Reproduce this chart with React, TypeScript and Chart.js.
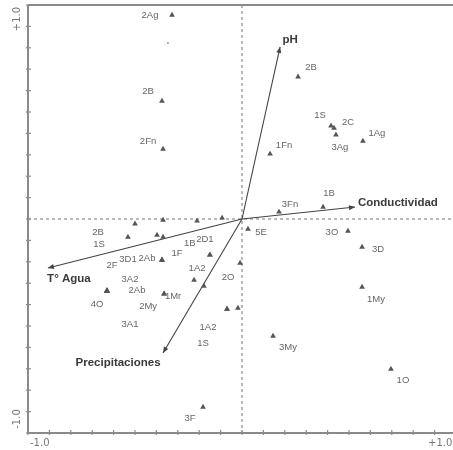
import { useEffect, useRef } from "react";
import { Chart, registerables } from "chart.js";

Chart.register(...registerables);

// ---- data (ordination scores) ----
const sampleNames = [
  "2Ag", "2B", "2Fn", "2B", "1S", "2C", "3Ag", "1Ag", "1Fn", "1B", "3Fn", "5E", "3O", "3D", "1My",
  "3My", "1O", "2O", "1A2", "1S", "3F", "2B", "1S", "", "", "", "", "", "2D1", "1B", "1F", "2Ab",
  "3D1", "2F", "3A2", "2Ab", "4O", "3A1", "1A2", "", "2My", "1Mr", "",
];
const sampleX = [
  -0.327, -0.374, -0.369, 0.262, 0.416, 0.43, 0.439, 0.565, 0.131, 0.379, 0.173, 0.028, 0.495, 0.561, 0.561,
  0.145, 0.696, -0.009, -0.07, -0.07, -0.182, -0.533, -0.5, -0.369, -0.21, -0.093, -0.397, -0.369, -0.15, -0.15, -0.374, -0.374,
  -0.374, -0.631, -0.631, -0.631, -0.631, -0.631, -0.224, -0.178, -0.364, -0.364, -0.019,
];
const sampleY = [
  0.953, 0.551, 0.327, 0.664, 0.435, 0.425, 0.393, 0.364, 0.304, 0.056, 0.033, -0.047, -0.056, -0.131, -0.318,
  -0.547, -0.701, -0.206, -0.421, -0.421, -0.879, -0.084, -0.023, -0.005, -0.009, 0.005, -0.075, -0.084, -0.168, -0.168, -0.192, -0.192,
  -0.192, -0.336, -0.336, -0.336, -0.336, -0.336, -0.285, -0.313, -0.35, -0.35, -0.416,
];
const extraX = [-0.346];
const extraY = [0.822];

// label placement (pixels, relative to the point)
const labelDx = [
  -22, -14, -15, 13, -11, 14, 4, 14, 14, 6, 11, 13, -16, 16, 14,
  15, 12, -12, -19, -24, -13, -30, -36, 0, 0, 0, 0, 0, -5, -20, 15, -15,
  -34, 5, 23, 30, -10, 23, 3, 0, -16, 9, 0,
];
const labelDy = [
  0, -10, -8, -10, -11, -6, 12, -8, -9, -14, -8, 3, 1, 2, 12,
  11, 11, 14, 18, 34, 11, -5, 20, 0, 0, 0, 0, 0, -16, -12, -7, -2,
  -1, -26, -12, -1, 13, 33, -12, 0, 12, 2, 0,
];

const envNames = ["pH", "Conductividad", "T° Agua", "Precipitaciones"];
const envX = [0.178, 0.528, -0.907, -0.369];
const envY = [0.804, 0.056, -0.229, -0.626];
const envLabelDx = [10, 3, 21, -45];
const envLabelDy = [-7, -4, 11, 10];
const envLabelAlign: CanvasTextAlign[] = ["center", "left", "center", "center"];

const axisMin = -1;
const axisMax = 1;
const tickStep = 0.1;
const axisTickLabels = ["-1.0", "+1.0"];

const biplotPlugin = {
  id: "biplot",
  beforeDraw(chart: any) {
    const { ctx, width, height } = chart;
    ctx.save();
    ctx.fillStyle = "#fff";
    ctx.fillRect(0, 0, width, height);
    ctx.restore();
  },
  beforeDatasetsDraw(chart: any) {
    const { ctx, chartArea: a } = chart;
    const xs = chart.scales.x;
    const ys = chart.scales.y;
    const line = (x1: number, y1: number, x2: number, y2: number) => {
      ctx.beginPath();
      ctx.moveTo(x1, y1);
      ctx.lineTo(x2, y2);
      ctx.stroke();
    };
    ctx.save();
    const x0 = xs.getPixelForValue(0);
    const y0 = ys.getPixelForValue(0);
    // dashed zero lines
    ctx.strokeStyle = "#777";
    ctx.lineWidth = 1;
    ctx.setLineDash([3, 3]);
    line(a.left, y0, a.right, y0);
    line(x0, a.top, x0, a.bottom);
    ctx.setLineDash([]);
    // frame
    ctx.strokeStyle = "#8a8a8a";
    ctx.lineWidth = 2;
    line(a.left, a.top, a.right, a.top);
    line(a.left, a.top, a.left, a.bottom);
    line(a.left, a.bottom, a.right, a.bottom);
    // ticks
    ctx.lineWidth = 1.2;
    const n = Math.round((axisMax - axisMin) / tickStep);
    for (let i = 0; i <= n; i++) {
      const v = axisMin + i * tickStep;
      const px = xs.getPixelForValue(v);
      line(px, a.bottom - 3, px, a.bottom + 2);
      const py = ys.getPixelForValue(v);
      line(a.left - 2, py, a.left + 3, py);
    }
    // tick labels
    ctx.fillStyle = "#777";
    ctx.font = "10px 'DejaVu Sans'";
    ctx.textBaseline = "middle";
    ctx.textAlign = "left";
    ctx.fillText(axisTickLabels[0], xs.getPixelForValue(axisMin) + 2, a.bottom + 10);
    ctx.fillText(axisTickLabels[1], xs.getPixelForValue(axisMax) - 28, a.bottom + 10);
    ctx.save();
    ctx.translate(17, ys.getPixelForValue(axisMin) - 14);
    ctx.rotate(-Math.PI / 2);
    ctx.textAlign = "center";
    ctx.fillText(axisTickLabels[0], 0, 0);
    ctx.restore();
    ctx.save();
    ctx.translate(17, ys.getPixelForValue(axisMax) + 14);
    ctx.rotate(-Math.PI / 2);
    ctx.textAlign = "center";
    ctx.fillText(axisTickLabels[1], 0, 0);
    ctx.restore();
    // environmental arrows
    ctx.strokeStyle = "#444";
    ctx.fillStyle = "#444";
    ctx.lineWidth = 1.1;
    envNames.forEach((name, i) => {
      const tx = xs.getPixelForValue(envX[i]);
      const ty = ys.getPixelForValue(envY[i]);
      line(x0, y0, tx, ty);
      const ang = Math.atan2(ty - y0, tx - x0);
      const L = 6;
      const W = 2.5;
      ctx.beginPath();
      ctx.moveTo(tx, ty);
      ctx.lineTo(tx - L * Math.cos(ang) + W * Math.sin(ang), ty - L * Math.sin(ang) - W * Math.cos(ang));
      ctx.lineTo(tx - L * Math.cos(ang) - W * Math.sin(ang), ty - L * Math.sin(ang) + W * Math.cos(ang));
      ctx.closePath();
      ctx.fill();
      ctx.font = "bold 11.5px 'Liberation Sans'";
      ctx.textAlign = envLabelAlign[i];
      ctx.textBaseline = "middle";
      ctx.fillStyle = "#3a3a3a";
      ctx.fillText(name, tx + envLabelDx[i], ty + envLabelDy[i]);
      ctx.fillStyle = "#444";
    });
    ctx.restore();
  },
  afterDatasetsDraw(chart: any) {
    const { ctx } = chart;
    const xs = chart.scales.x;
    const ys = chart.scales.y;
    ctx.save();
    ctx.fillStyle = "#666";
    ctx.font = "9.5px 'Liberation Sans'";
    ctx.textAlign = "center";
    ctx.textBaseline = "middle";
    sampleNames.forEach((name, i) => {
      if (!name) return;
      const px = xs.getPixelForValue(sampleX[i]);
      const py = ys.getPixelForValue(sampleY[i]);
      ctx.fillText(name, px + labelDx[i], py + labelDy[i]);
    });
    ctx.restore();
  },
};

export default function App() {
  const ref = useRef<HTMLCanvasElement | null>(null);
  useEffect(() => {
    document.body.style.margin = "0";
    const canvas = ref.current;
    if (!canvas) return;
    const chart = new Chart(canvas, {
      type: "scatter",
      data: {
        datasets: [
          {
            label: "Muestras",
            data: sampleX.map((x, i) => ({ x, y: sampleY[i] })),
            pointStyle: "triangle",
            pointRadius: 3.3,
            backgroundColor: "#555",
            borderColor: "#555",
            borderWidth: 0,
          },
          {
            label: "extra",
            data: extraX.map((x, i) => ({ x, y: extraY[i] })),
            pointStyle: "circle",
            pointRadius: 1,
            backgroundColor: "#999",
            borderWidth: 0,
          },
        ],
      },
      options: {
        responsive: false,
        animation: false,
        devicePixelRatio: 1,
        layout: { padding: { left: 28, top: 5, right: 4, bottom: 17 }, autoPadding: false },
        plugins: { legend: { display: false }, tooltip: { enabled: false } },
        scales: {
          x: { type: "linear", min: axisMin, max: axisMax, display: false },
          y: { type: "linear", min: axisMin, max: axisMax, display: false },
        },
      },
      plugins: [biplotPlugin],
    });
    return () => chart.destroy();
  }, []);
  return (
    <div style={{ width: 453, height: 450, overflow: "hidden", position: "relative" }}>
      <canvas ref={ref} width={460} height={450} style={{ display: "block" }} />
    </div>
  );
}
